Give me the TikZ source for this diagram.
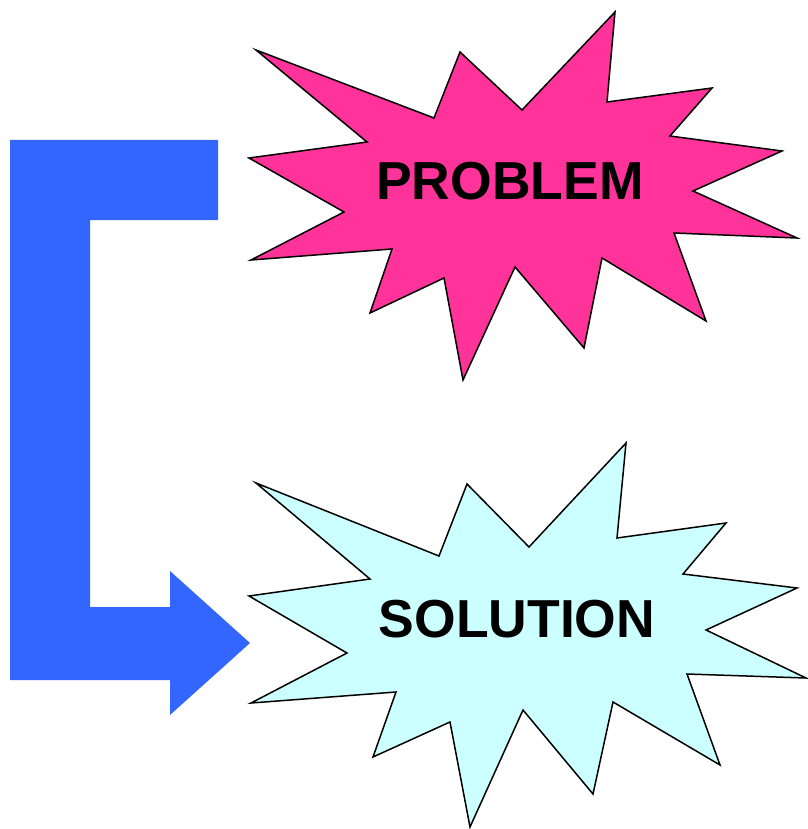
\documentclass[tikz,border=0pt]{standalone}
\usepackage{fontspec}
\setmainfont{Liberation Sans}
\usetikzlibrary{positioning}
\definecolor{arrowblue}{HTML}{3366FF}
\definecolor{burstpink}{HTML}{FF3399}
\definecolor{burstcyan}{HTML}{CCFFFF}

\begin{document}
\begin{tikzpicture}[x=1pt, y=-1pt,
  burst/.style={draw=black, line width=1.5pt, line join=miter},
  bigarrow/.style={fill=arrowblue, draw=none},
  burstlabel/.style={font=\fontsize{53.5}{60}\selectfont\bfseries, anchor=base, inner sep=0pt}
]
\useasboundingbox (0,0) rectangle (807,829);

% bent block arrow
\path[bigarrow] (10,140) -- (218,140) -- (218,220) -- (90,220) -- (90,607)
  -- (170,607) -- (170,571) -- (250,643) -- (170,715) -- (170,680) -- (10,680) -- cycle;

% problem burst
\path[burst, fill=burstpink] (256,50) -- (434,118) -- (460,52) -- (522,110) -- (615,12)
  -- (607,102) -- (712,88) -- (670,136) -- (782,151) -- (693,191) -- (797,238)
  -- (674,233) -- (706,321) -- (602,258) -- (584,348) -- (515,267) -- (463,380)
  -- (444,278) -- (370,313) -- (392,249) -- (251,260) -- (344,212) -- (249,158)
  -- (367,142) -- cycle;
\node[burstlabel] (problem) at (510,199) {PROBLEM};

% solution burst
\path[burst, fill=burstcyan] (256,483) -- (439,556) -- (467,484) -- (529,547) -- (626,443)
  -- (617,538) -- (726,523) -- (683,574) -- (797,588) -- (706,630) -- (806,678)
  -- (687,674) -- (720,765) -- (613,702) -- (593,794) -- (523,710) -- (470,827)
  -- (450,722) -- (373,757) -- (396,692) -- (251,703) -- (347,653) -- (249,596)
  -- (370,579) -- cycle;
\node[burstlabel] (solution) at (517,637) {SOLUTION};
\end{tikzpicture}
\end{document}
